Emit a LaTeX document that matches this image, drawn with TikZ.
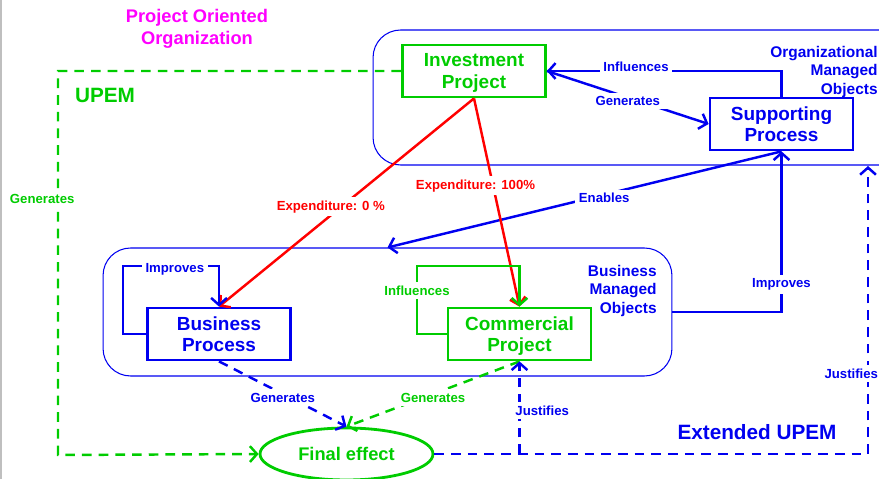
\documentclass[tikz,border=0pt]{standalone}
\usepackage{fontspec}
\setmainfont{Liberation Sans}
\usetikzlibrary{shapes.geometric, arrows.meta}

\definecolor{upemgreen}{RGB}{0,204,0}
\definecolor{upemblue}{RGB}{0,0,240}
\definecolor{poomagenta}{RGB}{255,0,255}
\definecolor{expred}{RGB}{255,0,0}

\tikzset{
  box/.style={draw, line width=1.6pt, minimum width=2.86cm, minimum height=1.04cm,
    align=center, inner sep=1pt, text depth=0pt,
    font=\fontsize{10.8}{12.2}\selectfont\bfseries},
  area/.style={draw=upemblue, line width=0.6pt, rounded corners=0.55cm, inner sep=0pt},
  arealbl/.style={text=upemblue, align=right, inner sep=0pt,
    font=\fontsize{8.8}{10.5}\selectfont\bfseries},
  biglbl/.style={inner sep=0pt, font=\fontsize{11.8}{14}\selectfont\bfseries},
  lbl/.style={fill=white, inner sep=2pt, font=\fontsize{7.5}{9}\selectfont\bfseries},
  conn/.style={->, line width=1.4pt},
  dashline/.style={line width=1.4pt, dash pattern=on 5.5pt off 4pt},
}

\begin{document}
\begin{tikzpicture}[x=0.02cm, y=-0.02cm, >={Straight Barb[length=4pt,width=9pt]}]

  \useasboundingbox (0,0) rectangle (879,479);
  \clip (0,0) rectangle (879,479);

  % Left border
  \draw[gray!50, line width=1.2pt] (0.6,0) -- (0.6,479);

  %%%%%%%%%%%%%%%%%%%%%%%%%%%%%%%%%%%%%%%%%%%%%%%%%
  % Managed objects
  \node[area, minimum width=10.88cm, minimum height=2.7cm] (omo) at (645,97.5) {};
  \node[area, minimum width=11.38cm, minimum height=2.56cm] (bmo) at (387.5,312) {};

  \node[arealbl, anchor=east] (omolbl) at (878,72) {Organizational\\Managed\\Objects};
  \node[arealbl, anchor=east] (bmolbl) at (657,291) {Business\\Managed\\Objects};

  % Projects and processes
  \node[box, upemgreen] (ip) at (474,71) {Investment\\Project};
  \node[box, upemblue] (sp) at (781.5,124) {Supporting\\Process};
  \node[box, upemblue] (bp) at (219,334) {Business\\Process};
  \node[box, upemgreen] (cp) at (519.5,334) {Commercial\\Project};
  \node[ellipse, draw, line width=1.6pt, upemgreen, minimum width=3.46cm,
    minimum height=1.04cm, inner sep=0pt, font=\fontsize{10.4}{12.5}\selectfont\bfseries]
    (fe) at (346.5,454) {Final effect};

  % Titles
  \node[text=poomagenta, align=center, inner sep=0pt,
    font=\fontsize{10.4}{12.5}\selectfont\bfseries] (poo) at (197,29)
    {Project Oriented\\Organization};
  \node[biglbl, text=upemgreen] (upem) at (105,95) {UPEM};
  \node[biglbl, text=upemblue] (xupem) at (757,432) {Extended UPEM};

  % Corners
  \coordinate (upemcorner) at (58,455);
  \coordinate (bploop) at (123,266);
  \coordinate (cploop) at (417,266);
  \coordinate (justtop) at (868,166);

  %%%%%%%%%%%%%%%%%%%%%%%%%%%%%%%%%%%%%%%%%%%%%%%%%
  % Organizational side
  \draw[conn, upemblue] (sp.north) |- node[lbl, pos=0.81, yshift=2.5pt] {Influences} (ip.east);
  \draw[conn, upemblue] (ip.east) -- node[lbl, midway, yshift=-2pt, inner xsep=8pt] {Generates} (sp.west);
  \draw[conn, upemblue] (sp.south) -- node[lbl, pos=0.45, yshift=-2pt] {Enables} (bmo.north);
  \draw[conn, upemblue] (bmo.east) -| node[lbl, pos=0.585] {Improves} (sp.south);

  % Expenditure
  \draw[conn, expred] (ip.south) -- node[lbl, pos=0.52, xshift=-6pt] {Expenditure: 0 \%} (bp.north);
  \draw[conn, expred] (ip.south) -- node[lbl, pos=0.42, xshift=-10pt] {Expenditure: 100\%} (cp.north);

  % Loops
  \draw[conn, upemblue] (bp.west) -| (bploop) -| node[lbl, pos=0.27, yshift=-2pt] {Improves} (bp.north);
  \draw[conn, upemgreen] (cp.west) -| node[lbl, pos=0.82] {Influences} (cploop) -| (cp.north);

  %%%%%%%%%%%%%%%%%%%%%%%%%%%%%%%%%%%%%%%%%%%%%%%%%
  % Final effect
  \draw[dashline, ->, upemgreen] (ip.west) -| node[lbl, pos=0.667, xshift=-9pt] {Generates} (upemcorner) -- (fe.west);
  \draw[dashline, ->, upemblue] (bp.south) -- node[lbl, midway, yshift=-2pt] {Generates} (fe.north);
  \draw[dashline, ->, upemgreen] (cp.south) -- node[lbl, midway, yshift=-2pt] {Generates} (fe.north);
  \draw[dashline, ->, upemblue] (fe.east) -| node[lbl, pos=0.64, xshift=-9.5pt] {Justifies} (justtop);
  \draw[dashline, ->, upemblue] (cp.south |- fe.east) -- node[lbl, pos=0.47, anchor=west, xshift=-5pt] {Justifies} (cp.south);

\end{tikzpicture}
\end{document}
